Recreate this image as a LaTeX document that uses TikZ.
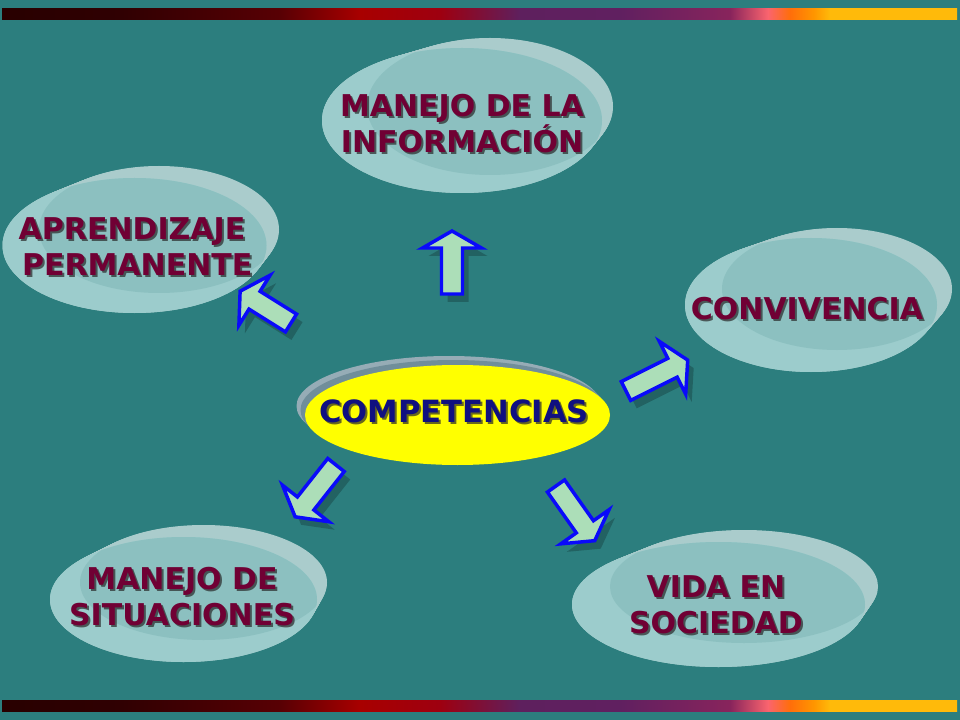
\documentclass[tikz,border=0pt]{standalone}
\usepackage{fontspec}
\setmainfont{DejaVu Sans}
\usetikzlibrary{calc}
\definecolor{bgteal}{RGB}{44,126,126}
\definecolor{rimc}{RGB}{170,204,204}
\definecolor{frontc}{RGB}{156,204,204}
\definecolor{interc}{RGB}{140,192,192}
\definecolor{maroon}{RGB}{112,0,52}
\definecolor{navyc}{RGB}{16,16,128}
\definecolor{shadowc}{RGB}{40,40,40}
\definecolor{arrfill}{RGB}{172,222,184}
\definecolor{arrblue}{RGB}{10,10,250}
\definecolor{yel}{RGB}{255,255,0}
\definecolor{c0}{RGB}{40,0,0}
\definecolor{c1}{RGB}{48,0,2}
\definecolor{c2}{RGB}{88,0,4}
\definecolor{c3}{RGB}{168,0,0}
\definecolor{c4}{RGB}{158,0,16}
\definecolor{c5}{RGB}{94,32,94}
\definecolor{c6}{RGB}{96,32,96}
\definecolor{c7}{RGB}{136,36,92}
\definecolor{c8}{RGB}{250,100,110}
\definecolor{c9}{RGB}{255,110,10}
\definecolor{c10}{RGB}{255,150,0}
\definecolor{c11}{RGB}{255,186,10}
\tikzset{
  lbltext/.style={font=\fontsize{22.5}{27}\selectfont\bfseries, align=center, inner sep=0pt},
  comptext/.style={font=\fontsize{23}{27}\selectfont\bfseries, align=center, inner sep=0pt},
  arrshape/.style={fill=arrfill, draw=arrblue, line width=2.6pt, line join=miter},
  arrshadow/.style={fill=black, fill opacity=0.22},
}
\newcommand\barseg[4]{\shade[left color=#1, right color=#2] (#3,0) rectangle (#4,11);}
\newcommand\discpair[8]{%
  \foreach \t in {0,0.05,...,1.001}{%
    \fill[rimc] ({#1+\t*(#5-#1)},{#2+\t*(#6-#2)}) ellipse [x radius={#3+\t*(#7-#3)}, y radius={#4+\t*(#8-#4)}];}
  \fill[frontc] (#1,#2) ellipse [x radius=#3, y radius=#4];
  \begin{scope}
    \clip (#1,#2) ellipse [x radius=#3, y radius=#4];
    \fill[interc] (#5,#6) ellipse [x radius=#7, y radius=#8];
  \end{scope}}
\newcommand\blockarrow[3]{%
  \begin{scope}[shift={($(#1)+(6,8)$)}, rotate=#2]
    \fill[arrshadow] (0,-10.5) -- ({#3-17},-10.5) -- ({#3-17},-29.5) -- (#3,0) -- ({#3-17},29.5) -- ({#3-17},10.5) -- (0,10.5) -- cycle;
  \end{scope}
  \begin{scope}[shift={(#1)}, rotate=#2]
    \draw[arrshape] (0,-10.5) -- ({#3-17},-10.5) -- ({#3-17},-29.5) -- (#3,0) -- ({#3-17},29.5) -- ({#3-17},10.5) -- (0,10.5) -- cycle;
  \end{scope}}
\newcommand\mylabel[5]{%
  \node[#5, text=shadowc, text opacity=0.7] (#1s) at ($(#2)+(2,2)$) {#4};
  \node[#5, text=#3] (#1) at (#2) {#4};}
\begin{document}
\begin{tikzpicture}[x=0.75pt,y=-0.75pt]
\useasboundingbox (0,0) rectangle (960,720);
\fill[bgteal] (0,0) rectangle (960,720);
% gradient bars
\foreach \yy in {9,700}{
\begin{scope}[shift={(2,\yy)}]
\barseg{c0}{c1}{0}{120}
\barseg{c1}{c2}{120}{278}
\barseg{c2}{c3}{278}{358}
\barseg{c3}{c4}{358}{438}
\barseg{c4}{c5}{438}{518}
\barseg{c5}{c6}{518}{618}
\barseg{c6}{c7}{618}{728}
\barseg{c7}{c8}{728}{766}
\barseg{c8}{c9}{766}{788}
\barseg{c9}{c10}{788}{812}
\barseg{c10}{c11}{812}{828}
\barseg{c11}{c11}{828}{955}
\end{scope}}
% discs
\discpair{462}{120.5}{140}{72.5}{490}{106.5}{123}{68.5}
\discpair{134.5}{245.5}{132}{67.5}{159}{229.5}{120}{63.5}
\discpair{811}{305}{126}{67}{837}{289}{115}{61}
\discpair{183.5}{599.5}{133.5}{62.5}{203.5}{582.5}{123.5}{57.5}
\discpair{718.5}{604.5}{146.5}{62.5}{744}{586.5}{134}{56.5}
% centre ellipse
\fill[fill={rgb,255:red,150;green,172;blue,182}] (449,406) ellipse [x radius=152.5, y radius=50];
\fill[fill={rgb,255:red,112;green,142;blue,154}] (453,410) ellipse [x radius=152.5, y radius=50];
\fill[yel] (457.5,415) ellipse [x radius=152.5, y radius=50];
% arrows
\coordinate (aup) at (452,294);
\coordinate (aul) at (291,323);
\coordinate (aur) at (626,391);
\coordinate (adl) at (336,465);
\coordinate (adr) at (556,486);
\blockarrow{aup}{90}{63}
\blockarrow{aul}{148}{60}
\blockarrow{aur}{26.6}{69}
\blockarrow{adl}{-128.3}{66}
\blockarrow{adr}{-54.7}{67}
% labels
\mylabel{info}{462,124}{maroon}{MANEJO DE LA\\INFORMACIÓN}{lbltext}
\mylabel{apr}{132,247}{maroon}{APRENDIZAJE\\\ PERMANENTE}{lbltext}
\mylabel{conv}{807,309}{maroon}{CONVIVENCIA}{lbltext}
\mylabel{sit}{182,597}{maroon}{MANEJO DE\\SITUACIONES}{lbltext}
\mylabel{soc}{716,605}{maroon}{VIDA EN\\SOCIEDAD}{lbltext}
\mylabel{comp}{454,411}{navyc}{COMPETENCIAS}{comptext}
\end{tikzpicture}
\end{document}
